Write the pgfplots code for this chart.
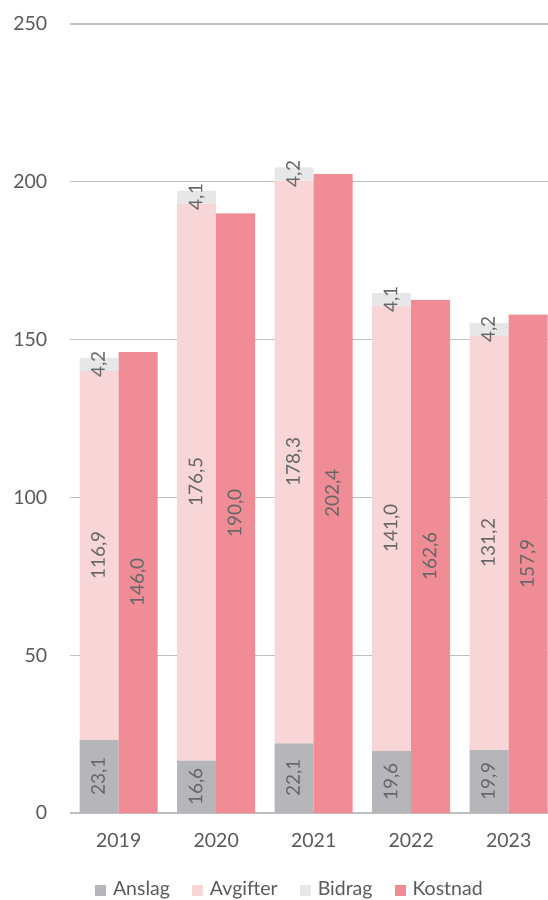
\documentclass[border=0pt]{standalone}
\usepackage{pgfplots}
\usepackage{pgfplotstable}
\pgfplotsset{compat=1.18}
\usepackage{fontspec}
\setmainfont{Lato}
\definecolor{anslag}{HTML}{B6B6BA}
\definecolor{avgifter}{HTML}{F8D5D6}
\definecolor{bidrag}{HTML}{E6E7E9}
\definecolor{kostnad}{HTML}{F08C96}
\definecolor{txt}{HTML}{595959}
\definecolor{lbl}{HTML}{666666}
\definecolor{gridc}{HTML}{C0C0C0}

\pgfplotstableread{
x anslag avgifter bidrag kostnad
0 23.1 116.9 4.2 146.0
1 16.6 176.5 4.1 190.0
2 22.1 178.3 4.2 202.4
3 19.6 141.0 4.1 162.6
4 19.9 131.2 4.2 157.9
}\data

\pgfplotsset{
  base/.style={
    scale only axis,
    width=478pt, height=789pt,
    xmin=-0.5, xmax=4.403,
    ymin=0, ymax=250,
    clip=false,
  },
}

\begin{document}
\fontsize{19.5}{23}\selectfont
\begin{tikzpicture}
\begin{axis}[base, name=A,
  ybar stacked,
  bar width=0.4,
  bar shift=-0.2,
  axis line style={draw=none},
  ymajorgrids,
  grid style={draw=gridc, line width=1.3pt},
  ytick={0,50,100,150,200,250},
  xtick={0,1,2,3,4},
  xticklabels={2019,2020,2021,2022,2023},
  major tick length=0pt,
  tick style={draw=none},
  /pgf/number format/assume math mode=true,
  ticklabel style={font=\fontsize{19.5}{23}\selectfont, text=txt},
  yticklabel style={anchor=east, xshift=-16pt},
  xticklabel style={anchor=north, yshift=-14pt},
  legend columns=4,
  legend style={draw=none, fill=none, at={(0.46,-0.0976)}, anchor=center,
    font=\fontsize{19.5}{23}\selectfont, text=txt,
    /tikz/every even column/.append style={column sep=20pt}},
  legend image code/.code={\fill[#1, draw=none] (0pt,-6pt) rectangle (11pt,5pt); \path (16pt,0pt);},
]
\addplot[fill=anslag, draw=none, forget plot] table[x=x, y=anslag]{\data};
\addplot[fill=avgifter, draw=none, forget plot] table[x=x, y=avgifter]{\data};
\addplot[fill=bidrag, draw=none, forget plot] table[x=x, y=bidrag]{\data};
\addlegendimage{fill=anslag, draw=none}
\addlegendentry{Anslag}
\addlegendimage{fill=avgifter, draw=none}
\addlegendentry{Avgifter}
\addlegendimage{fill=bidrag, draw=none}
\addlegendentry{Bidrag}
\addlegendimage{fill=kostnad, draw=none}
\addlegendentry{Kostnad}
\end{axis}
\begin{axis}[base,
  axis lines=none,
  ticks=none,
  /pgf/number format/.cd, use comma, fixed, fixed zerofill, precision=1, assume math mode=true,
  /pgfplots/.cd,
  every node near coord/.append style={rotate=90, anchor=center, text=lbl, font=\fontsize{19}{23}\selectfont},
]
\addplot[ybar, bar width=0.4, bar shift=0.2, fill=kostnad, draw=none] table[x=x, y=kostnad]{\data};
\addplot[only marks, mark=none, nodes near coords, point meta=explicit]
  table[x expr=\thisrow{x}-0.2, y expr=\thisrow{anslag}/2, meta=anslag]{\data};
\addplot[only marks, mark=none, nodes near coords, point meta=explicit]
  table[x expr=\thisrow{x}-0.2, y expr=\thisrow{anslag}+\thisrow{avgifter}/2, meta=avgifter]{\data};
\addplot[only marks, mark=none, nodes near coords, point meta=explicit]
  table[x expr=\thisrow{x}-0.2, y expr=\thisrow{anslag}+\thisrow{avgifter}+\thisrow{bidrag}/2, meta=bidrag]{\data};
\addplot[only marks, mark=none, nodes near coords, point meta=explicit]
  table[x expr=\thisrow{x}+0.2, y expr=\thisrow{kostnad}/2, meta=kostnad]{\data};
\end{axis}
\pgfresetboundingbox
\path (A.south west) ++(-70pt,-87pt) rectangle ([yshift=24pt]A.north east);
\end{tikzpicture}
\end{document}
